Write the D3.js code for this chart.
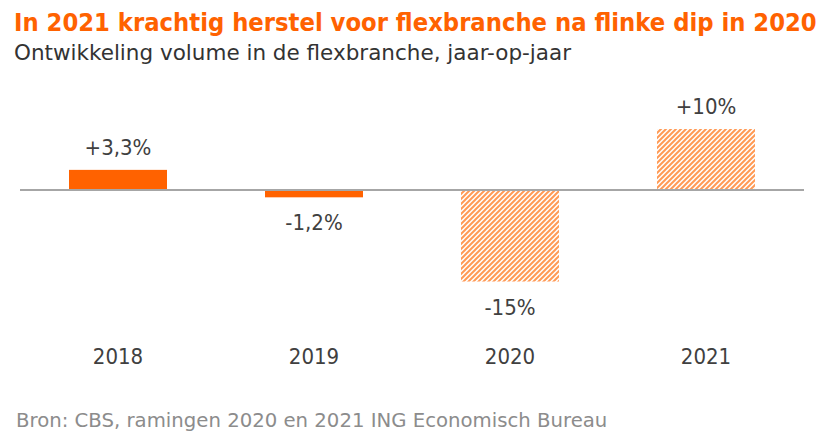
<!DOCTYPE html>
<meta charset="utf-8">
<style>
  body { margin: 0; background: #fff; }
  text { font-family: "DejaVu Sans Condensed", "Liberation Sans", sans-serif; }
</style>
<svg width="830" height="440"></svg>
<script src="https://cdn.jsdelivr.net/npm/d3@7"></script>
<script>

// data
var years = ["2018", "2019", "2020", "2021"];
var growth = [3.3, -1.2, -15, 10];
var labels = ["+3,3%", "-1,2%", "-15%", "+10%"];
var estimate = [false, false, true, true];   // ramingen -> hatched

var svg = d3.select("svg"),
    orange = "#ff6200";

var x = d3.scaleBand()
    .domain(years)
    .range([20, 804])
    .paddingInner(0.5)
    .paddingOuter(0.25);

var y = d3.scaleLinear()
    .domain([0, 10])
    .range([190, 129]);

/*
 * Diagonal hatch ("/") for the forecast years.
 */
var pat = svg.append("defs").append("pattern")
    .attr("id", "hatch")
    .attr("patternUnits", "userSpaceOnUse")
    .attr("width", 5)
    .attr("height", 5);
pat.append("path")
    .attr("d", "M0,5L5,0M-1,1L1,-1M4,6L6,4")
    .attr("stroke", "#ff9a55")
    .attr("stroke-width", 2);

// title block
svg.append("text")
    .attr("x", 14).attr("y", 31)
    .attr("fill", orange)
    .attr("font-size", 25.3)
    .attr("font-weight", "bold")
    .text("In 2021 krachtig herstel voor flexbranche na flinke dip in 2020");

svg.append("text")
    .attr("x", 14).attr("y", 60)
    .attr("fill", "#333")
    .attr("font-size", 21.5)
    .style("font-family", "\"DejaVu Sans\", sans-serif")
    .text("Ontwikkeling volume in de flexbranche, jaar-op-jaar");

// bars
var data = years.map(function(d, i) {
  return { year: d, v: growth[i], label: labels[i], est: estimate[i] };
});

svg.selectAll(".bar")
  .data(data)
  .enter().append("rect")
    .attr("class", "bar")
    .attr("x", function(d) { return x(d.year); })
    .attr("width", x.bandwidth())
    .attr("y", function(d) { return y(Math.max(0, d.v)); })
    .attr("height", function(d) { return Math.abs(y(d.v) - y(0)); })
    .attr("fill", function(d) { return d.est ? "url(#hatch)" : orange; });

// zero line
svg.append("line")
    .attr("x1", 20).attr("x2", 804)
    .attr("y1", y(0)).attr("y2", y(0))
    .attr("stroke", "#a6a6a6")
    .attr("stroke-width", 2);

// value labels
svg.selectAll(".val")
  .data(data)
  .enter().append("text")
    .attr("class", "val")
    .attr("x", function(d) { return x(d.year) + x.bandwidth() / 2; })
    .attr("y", function(d) { return d.v >= 0 ? y(d.v) - 15 : y(d.v) + 33; })
    .attr("text-anchor", "middle")
    .attr("fill", "#404040")
    .attr("font-size", 22)
    .text(function(d) { return d.label; });

// x axis labels
var xAxis = svg.append("g")
    .attr("transform", "translate(0,346)")
    .call(d3.axisBottom(x).tickSize(0).tickPadding(0));
xAxis.select(".domain").remove();
xAxis.selectAll("text")
    .attr("dy", "0.8em")
    .attr("fill", "#404040")
    .attr("font-size", 22)
    .style("font-family", "\"DejaVu Sans Condensed\", sans-serif");

// source
svg.append("text")
    .attr("x", 16).attr("y", 427)
    .attr("fill", "#8c8c8c")
    .attr("font-size", 19.7)
    .style("font-family", "\"DejaVu Sans\", sans-serif")
    .text("Bron: CBS, ramingen 2020 en 2021 ING Economisch Bureau");

</script>
